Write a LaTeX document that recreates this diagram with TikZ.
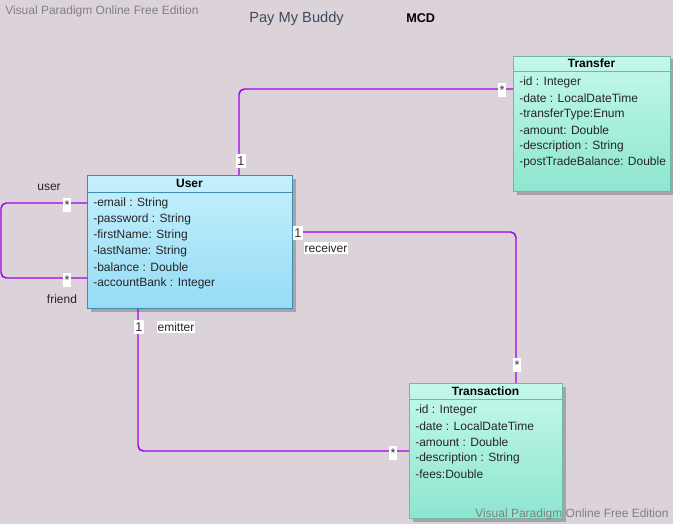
\documentclass[tikz,border=0pt]{standalone}
\usepackage{fontspec}
\setmainfont{Liberation Sans}
\usetikzlibrary{shadows,calc}
\definecolor{bgc}{HTML}{DCD2DA}
\definecolor{usertop}{HTML}{C5F0FD}
\definecolor{userbot}{HTML}{96DCF5}
\definecolor{userborder}{HTML}{3C8DAE}
\definecolor{greentop}{HTML}{C4F8EA}
\definecolor{greenbot}{HTML}{8DE6CF}
\definecolor{greenborder}{HTML}{6FB8A5}
\definecolor{assocc}{HTML}{A000F0}
\definecolor{shadowc}{HTML}{A9A3A9}
\definecolor{wmc}{HTML}{808080}
\definecolor{titlec}{HTML}{3D4B5C}
\tikzset{
  classbox/.style={draw, line width=0.75pt, anchor=north west, inner sep=0pt,
    drop shadow={shadow xshift=2.25pt, shadow yshift=-2.25pt, fill=shadowc, opacity=1}},
  userbox/.style={classbox, draw=userborder, top color=usertop, bottom color=userbot},
  greenbox/.style={classbox, draw=greenborder, top color=greentop, bottom color=greenbot},
  ctitle/.style={font=\fontsize{9}{11}\selectfont\bfseries, inner sep=0pt},
  attr/.style={font=\fontsize{9}{11}\selectfont, anchor=west, inner sep=0pt, text=black!85},
  assoc/.style={draw=assocc, line width=1.1pt, rounded corners=4pt},
  mult/.style={fill=white, font=\fontsize{9.5}{11}\selectfont, inner xsep=1pt, inner ysep=2pt, text=black!80},
  role/.style={font=\fontsize{9}{11}\selectfont, inner sep=0.8pt, text=black!85},
  rolew/.style={role, fill=white, inner ysep=1.5pt},
  wm/.style={font=\fontsize{9}{11}\selectfont, text=wmc, inner sep=0pt, anchor=west}
}
\begin{document}
\begin{tikzpicture}[x=0.75pt, y=-0.75pt]
\fill[bgc] (0,0) rectangle (673,524);
\useasboundingbox (0,0) rectangle (673,524);

\node[wm] (wmtop) at (5,11) {Visual Paradigm Online Free Edition};
\node[font=\fontsize{11}{13}\selectfont, text=titlec, anchor=west, inner sep=0pt] (title) at (249,18.5) {Pay My Buddy};
\node[font=\fontsize{9.5}{12}\selectfont\bfseries, anchor=west, inner sep=0pt] (mcd) at (406,18.5) {MCD};

% class boxes
\node[userbox, minimum width=153.75pt, minimum height=99.75pt] (user) at (87,175) {};
\node[greenbox, minimum width=117.75pt, minimum height=101.25pt] (transfer) at (513,56) {};
\node[greenbox, minimum width=114.75pt, minimum height=101.25pt] (transaction) at (409,383) {};

% header separators
\draw[userborder, line width=0.75pt] ([yshift=-12.75pt]user.north west) -- ([yshift=-12.75pt]user.north east);
\draw[greenborder, line width=0.75pt] ([yshift=-12pt]transfer.north west) -- ([yshift=-12pt]transfer.north east);
\draw[greenborder, line width=0.75pt] ([yshift=-12pt]transaction.north west) -- ([yshift=-12pt]transaction.north east);

% titles
\node[ctitle] (usert) at (189.5,183) {User};
\node[ctitle] (transfert) at (591.5,63) {Transfer};
\node[ctitle] (transactiont) at (485.5,391) {Transaction};

% attributes
\node[attr] (u1) at (93,203) {-email : String};
\node[attr] (u2) at (93,219) {-password : String};
\node[attr] (u3) at (93,235) {-firstName: String};
\node[attr] (u4) at (93,251) {-lastName: String};
\node[attr] (u5) at (93,267) {-balance : Double};
\node[attr] (u6) at (93,283) {-accountBank : Integer};

\node[attr] (t1) at (519,82) {-id : Integer};
\node[attr] (t2) at (519,98) {-date : LocalDateTime};
\node[attr] (t3) at (519,114) {-transferType:Enum};
\node[attr] (t4) at (519,130) {-amount: Double};
\node[attr] (t5) at (519,146) {-description : String};
\node[attr] (t6) at (519,162) {-postTradeBalance: Double};

\node[attr] (x1) at (415,410) {-id : Integer};
\node[attr] (x2) at (415,426) {-date : LocalDateTime};
\node[attr] (x3) at (415,442) {-amount : Double};
\node[attr] (x4) at (415,458) {-description : String};
\node[attr] (x5) at (415,474) {-fees:Double};

% associations
\draw[assoc] ([xshift=114pt]user.north west) |- ([yshift=-24.75pt]transfer.north west);
\draw[assoc] ([yshift=-21pt]user.north west) -- (1,203) -- (1,278) -- ([yshift=-77.25pt]user.north west);
\draw[assoc] ([yshift=-42.75pt]user.north east) -| ([xshift=80.25pt]transaction.north west);
\draw[assoc] ([xshift=38.25pt]user.south west) |- ([yshift=-51pt]transaction.north west);

% multiplicities and roles
\node[mult] (m1a) at (241,161) {1};
\node[mult] (m1b) at (502,90) {*};
\node[mult] (m2a) at (67,205) {*};
\node[mult] (m2b) at (67,280) {*};
\node[role] (ruser) at (49,187) {user};
\node[role] (rfriend) at (62,299) {friend};
\node[mult] (m3a) at (298,233) {1};
\node[rolew] (rrecv) at (326,248) {receiver};
\node[mult] (m3b) at (517,365) {*};
\node[mult] (m4a) at (139,327) {1};
\node[rolew] (remit) at (176,327) {emitter};
\node[mult] (m4b) at (393,453) {*};

\node[wm] (wmbot) at (475,514) {Visual Paradigm Online Free Edition};
\end{tikzpicture}
\end{document}
